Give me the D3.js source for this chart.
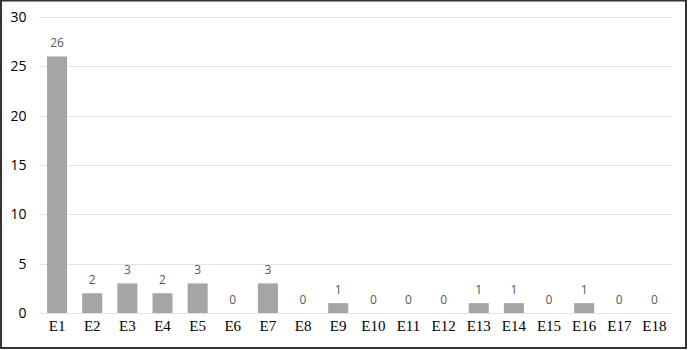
<!DOCTYPE html>
<meta charset="utf-8">
<style>
body { margin: 0; background: #fff; }
.grid line { stroke: #e3e3e3; stroke-width: 1px; }
.axis--y path, .axis--y line { display: none; }
.axis--x path, .axis--x line { display: none; }
.bar { fill: #a5a5a5; }
.label { font-family: "Open Sans", "Liberation Sans", sans-serif; font-size: 12px; fill: #595959; text-anchor: middle; }
.xlab { font-family: "Liberation Serif", "Times New Roman", "DejaVu Serif", serif !important; font-size: 15px; fill: #000; }
</style>
<svg width="688" height="350"></svg>
<script src="https://d3js.org/d3.v7.min.js"></script>
<script>
var categories = ["E1","E2","E3","E4","E5","E6","E7","E8","E9","E10","E11","E12","E13","E14","E15","E16","E17","E18"];
var values = [26, 2, 3, 2, 3, 0, 3, 0, 1, 0, 0, 0, 1, 1, 0, 1, 0, 0];
var yTicks = [0, 5, 10, 15, 20, 25, 30];

var svg = d3.select("svg"),
    margin = {top: 17, right: 16, bottom: 37, left: 39.5},
    width = +svg.attr("width") - margin.left - margin.right,
    height = +svg.attr("height") - margin.top - margin.bottom;

// outer frame
svg.append("rect")
    .attr("x", 1).attr("y", 0.5)
    .attr("width", 685).attr("height", 347.5)
    .attr("fill", "none")
    .attr("stroke", "#333")
    .attr("stroke-width", 2);

var g = svg.append("g").attr("transform", "translate(" + margin.left + "," + margin.top + ")");

var x = d3.scaleBand()
    .domain(categories)
    .range([0, width])
    .paddingInner(0.43)
    .paddingOuter(0.215);

var y = d3.scaleLinear()
    .domain([0, 30])
    .range([height, 0]);

g.append("g")
    .attr("class", "grid")
    .selectAll("line")
    .data(yTicks)
    .enter().append("line")
    .attr("x1", 0).attr("x2", width)
    .attr("y1", function(d) { return Math.round(y(d)) + 0.5; })
    .attr("y2", function(d) { return Math.round(y(d)) + 0.5; });

var yAxis = g.append("g")
    .attr("class", "axis axis--y")
    .attr("transform", "translate(-8,0)")
    .call(d3.axisLeft(y).tickValues(yTicks).tickSize(0).tickPadding(5));
yAxis.attr("font-family", "Open Sans, Liberation Sans, sans-serif").attr("font-size", 14);
yAxis.selectAll("text").attr("fill", "#000");

var xAxis = g.append("g")
    .attr("class", "axis axis--x")
    .attr("transform", "translate(0," + height + ")")
    .call(d3.axisBottom(x).tickSize(0).tickPadding(7));
xAxis.attr("font-family", null).attr("font-size", null);
xAxis.selectAll("text").attr("class", "xlab").attr("fill", null);

g.selectAll(".bar")
    .data(values)
    .enter().append("rect")
    .attr("class", "bar")
    .attr("x", function(d, i) { return x(categories[i]); })
    .attr("width", x.bandwidth())
    .attr("y", function(d) { return y(d); })
    .attr("height", function(d) { return height - y(d); });

g.selectAll(".label")
    .data(values)
    .enter().append("text")
    .attr("class", "label")
    .attr("x", function(d, i) { return x(categories[i]) + x.bandwidth() / 2; })
    .attr("y", function(d) { return y(d) - 9; })
    .text(function(d) { return d; });
</script>
